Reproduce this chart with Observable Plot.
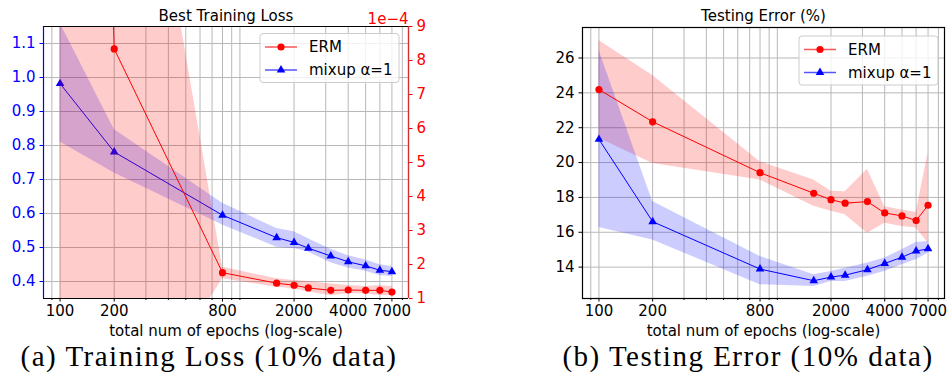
<!DOCTYPE html>
<html><head><meta charset="utf-8">
<script src="https://cdn.jsdelivr.net/npm/d3@7"></script>
<script src="https://cdn.jsdelivr.net/npm/@observablehq/plot@0.6"></script>
<style>
body{margin:0;background:#fff;width:948px;height:385px;position:relative;overflow:hidden;font-family:"DejaVu Sans",sans-serif}
.panel{position:absolute;top:0}
.cap{position:absolute;font-family:"Liberation Serif",serif;font-size:29px;line-height:29px;letter-spacing:1.5px;text-align:center;white-space:nowrap;color:#000}
</style></head><body>
<div id="a" class="panel" style="left:0"></div>
<div id="b" class="panel" style="left:474px"></div>
<div class="cap" style="left:0px;width:418px;top:342px">(a) Training Loss (10% data)</div>
<div class="cap" style="left:548px;width:400px;top:342px">(b) Testing Error (10% data)</div>
<script>
// ---------- data ----------
const epochs = [100, 200, 800, 1600, 2000, 2400, 3200, 4000, 5000, 6000, 7000];

// Best training loss, ERM (right axis, units of 1e-4)
const ermLoss   = [60, 8.34, 1.76, 1.45, 1.39, 1.31, 1.24, 1.25, 1.24, 1.24, 1.19];
const ermLossLo = [-20, -3.5, 1.58, 1.33, 1.29, 1.19, 1.09, 1.14, 1.14, 1.09, 1.09];
const ermLossHi = [140, 20.5, 1.92, 1.58, 1.53, 1.50, 1.43, 1.38, 1.35, 1.38, 1.35];

// Best training loss, mixup alpha=1 (left axis)
const mixLoss   = [0.982, 0.781, 0.595, 0.529, 0.515, 0.498, 0.475, 0.458, 0.446, 0.433, 0.429];
const mixLossLo = [0.81, 0.719, 0.566, 0.501, 0.497, 0.487, 0.455, 0.440, 0.430, 0.418, 0.415];
const mixLossHi = [1.16, 0.847, 0.630, 0.556, 0.546, 0.526, 0.495, 0.476, 0.463, 0.449, 0.444];

// Testing error (%)
const ermErr   = [24.19, 22.34, 19.42, 18.24, 17.87, 17.67, 17.76, 17.11, 16.94, 16.67, 17.55];
const ermErrLo = [21.4, 19.95, 19.0, 17.5, 17.2, 17.0, 15.95, 16.52, 16.33, 16.25, 15.38];
const ermErrHi = [27.0, 25.0, 20.05, 19.0, 18.35, 18.33, 19.61, 17.47, 17.28, 17.13, 20.53];

const mixErr   = [21.33, 16.61, 13.89, 13.22, 13.43, 13.54, 13.85, 14.21, 14.57, 14.92, 15.05];
const mixErrLo = [16.27, 15.56, 12.99, 12.89, 13.18, 13.18, 13.47, 13.75, 14.13, 14.42, 14.8];
const mixErrHi = [26.44, 17.76, 14.61, 13.56, 13.75, 13.94, 14.23, 14.52, 15.0, 15.41, 15.47];

// ticks & labels
const xTicks = [100, 200, 800, 2000, 4000, 7000];
const lossTicks = [0.4, 0.5, 0.6, 0.7, 0.8, 0.9, 1.0, 1.1];
const lossRightTicks = [1, 2, 3, 4, 5, 6, 7, 8, 9];
const errTicks = [14, 16, 18, 20, 22, 24, 26];
const titleA = "Best Training Loss";
const titleB = "Testing Error (%)";
const xLabel = "total num of epochs (log-scale)";
const rightExp = "1e\u22124";
const seriesNames = ["ERM", "mixup \u03b1=1"];

// ---------- scales ----------
const xDomain = [80.87, 8656];
const lossDomain = [0.35, 1.15];
const rightDomain = [1, 9];
const errDomain = [12.2, 27.75];
const toLeft = v => lossDomain[0] + (v - rightDomain[0]) * (lossDomain[1] - lossDomain[0]) / (rightDomain[1] - rightDomain[0]);
const fromLeft = v => rightDomain[0] + (v - lossDomain[0]) * (rightDomain[1] - rightDomain[0]) / (lossDomain[1] - lossDomain[0]);

const gridTicks = [];
for (const dec of [10, 100, 1000]) for (let k = 1; k <= 9; k++) {
  const v = k * dec; if (v >= xDomain[0] && v <= xDomain[1]) gridTicks.push(v);
}
const minorTicks = gridTicks.filter(v => !xTicks.includes(v));

const rows = epochs.map((e, i) => ({
  e,
  erm: toLeft(ermLoss[i]), ermLo: toLeft(ermLossLo[i]), ermHi: toLeft(ermLossHi[i]),
  mix: mixLoss[i], mixLo: mixLossLo[i], mixHi: mixLossHi[i],
  eErr: ermErr[i], eErrLo: ermErrLo[i], eErrHi: ermErrHi[i],
  mErr: mixErr[i], mErrLo: mixErrLo[i], mErrHi: mixErrHi[i]
}));

const RED = "#ff0000", BLUE = "#0000ff", GRID = "#b8b8b8";
const FS = 15;
const R_CIRC = 3.6, R_TRI = 3.2;

function xAxes() {
  return [
    Plot.axisX(minorTicks, {tickSize: 2, tickFormat: () => "", stroke: "black", label: null}),
    Plot.axisX(xTicks, {tickSize: 3.5, tickFormat: () => "", stroke: "black", label: null}),
    Plot.text(xTicks, {x: d => d, text: d => String(d), frameAnchor: "bottom", lineAnchor: "top", dy: 7, fontSize: FS, fill: "black"}),
    Plot.text([xLabel], {text: d => d, frameAnchor: "bottom", lineAnchor: "middle", dy: 33, fontSize: FS, fill: "black"})
  ];
}

function addLegend(svg, x0, y0) {
  const g = d3.select(svg).append("g").attr("font-family", "DejaVu Sans").attr("font-size", FS);
  g.append("rect").attr("x", x0).attr("y", y0).attr("width", 139).attr("height", 49).attr("rx", 3)
    .attr("fill", "white").attr("fill-opacity", 0.8).attr("stroke", "#cccccc");
  const items = [
    {name: seriesNames[0], color: RED, lc: "#ff5555", sym: d3.symbolCircle, r: R_CIRC},
    {name: seriesNames[1], color: BLUE, lc: "#5555ff", sym: d3.symbolTriangle, r: R_TRI}
  ];
  items.forEach((it, i) => {
    const cy = y0 + 13.5 + i * 23;
    g.append("line").attr("x1", x0 + 5).attr("x2", x0 + 37).attr("y1", cy).attr("y2", cy)
      .attr("stroke", it.lc).attr("stroke-width", 1.5);
    g.append("path").attr("d", d3.symbol(it.sym, Math.PI * it.r * it.r)())
      .attr("transform", `translate(${x0 + 21},${cy})`).attr("fill", it.color);
    g.append("text").attr("x", x0 + 49).attr("y", cy).attr("dy", "0.35em").attr("text-anchor", "start")
      .attr("fill", "black").text(it.name);
  });
}

// ---------- panel (a) ----------
const plotA = Plot.plot({
  width: 474, height: 340,
  marginLeft: 43, marginRight: 66, marginTop: 26, marginBottom: 42,
  style: {fontFamily: "DejaVu Sans", fontSize: FS + "px", background: "white"},
  x: {type: "log", domain: xDomain},
  y: {domain: lossDomain},
  marks: [
    Plot.gridX(gridTicks, {stroke: GRID, strokeOpacity: 1, strokeWidth: 1}),
    Plot.gridY(lossTicks, {stroke: GRID, strokeOpacity: 1, strokeWidth: 1}),
    Plot.areaY(rows, {x: "e", y1: "mixLo", y2: "mixHi", fill: BLUE, fillOpacity: 0.2, clip: true}),
    Plot.line(rows, {x: "e", y: "mix", stroke: BLUE, strokeWidth: 1, clip: true}),
    Plot.dot(rows, {x: "e", y: "mix", symbol: "triangle", fill: BLUE, r: R_TRI, clip: true}),
    Plot.areaY(rows, {x: "e", y1: "ermLo", y2: "ermHi", fill: RED, fillOpacity: 0.2, clip: true}),
    Plot.line(rows, {x: "e", y: "erm", stroke: RED, strokeWidth: 1, clip: true}),
    Plot.dot(rows, {x: "e", y: "erm", symbol: "circle", fill: RED, r: R_CIRC, clip: true}),
    Plot.ruleY([lossDomain[0], lossDomain[1]], {stroke: "black", strokeWidth: 1.2}),
    Plot.ruleX([xDomain[0]], {stroke: BLUE, strokeWidth: 1.2}),
    Plot.ruleX([xDomain[1]], {stroke: "#d03030", strokeWidth: 1.4}),
    Plot.axisY(lossTicks, {anchor: "left", tickSize: 3.5, tickPadding: 4.5, tickFormat: d => d.toFixed(1),
      stroke: BLUE, fill: BLUE, color: BLUE, fontSize: FS, label: null}),
    Plot.axisY(lossRightTicks.map(toLeft), {anchor: "right", tickSize: 3.5, tickPadding: 4.5,
      tickFormat: d => String(Math.round(fromLeft(d))), stroke: RED, fill: RED, color: RED, fontSize: FS, label: null}),
    ...xAxes(),
    Plot.text([titleA], {text: d => d, frameAnchor: "top", lineAnchor: "middle", dy: -10.5, fontSize: FS, fill: "black"}),
    Plot.text([rightExp], {text: d => d, frameAnchor: "top-right", lineAnchor: "middle", dy: -7.7, textAnchor: "end", fontSize: FS, fill: RED})
  ]
});
document.getElementById("a").append(plotA);
addLegend(plotA, 260, 33.5);

// ---------- panel (b) ----------
const plotB = Plot.plot({
  width: 474, height: 340,
  marginLeft: 108, marginRight: 4, marginTop: 27, marginBottom: 42,
  style: {fontFamily: "DejaVu Sans", fontSize: FS + "px", background: "white"},
  x: {type: "log", domain: xDomain},
  y: {domain: errDomain},
  marks: [
    Plot.gridX(gridTicks, {stroke: GRID, strokeOpacity: 1, strokeWidth: 1}),
    Plot.gridY(errTicks, {stroke: GRID, strokeOpacity: 1, strokeWidth: 1}),
    Plot.areaY(rows, {x: "e", y1: "eErrLo", y2: "eErrHi", fill: RED, fillOpacity: 0.2, clip: true}),
    Plot.areaY(rows, {x: "e", y1: "mErrLo", y2: "mErrHi", fill: BLUE, fillOpacity: 0.2, clip: true}),
    Plot.line(rows, {x: "e", y: "eErr", stroke: RED, strokeWidth: 1, clip: true}),
    Plot.dot(rows, {x: "e", y: "eErr", symbol: "circle", fill: RED, r: R_CIRC, clip: true}),
    Plot.line(rows, {x: "e", y: "mErr", stroke: BLUE, strokeWidth: 1, clip: true}),
    Plot.dot(rows, {x: "e", y: "mErr", symbol: "triangle", fill: BLUE, r: R_TRI, clip: true}),
    Plot.frame({stroke: "black", strokeWidth: 1.2}),
    Plot.axisY(errTicks, {anchor: "left", tickSize: 3.5, tickPadding: 4.5, tickFormat: d => String(d),
      stroke: "black", fill: "black", fontSize: FS, label: null}),
    ...xAxes(),
    Plot.text([titleB], {text: d => d, frameAnchor: "top", lineAnchor: "middle", dy: -11, fontSize: FS, fill: "black"})
  ]
});
document.getElementById("b").append(plotB);
addLegend(plotB, 325, 36);
</script>
</body></html>
